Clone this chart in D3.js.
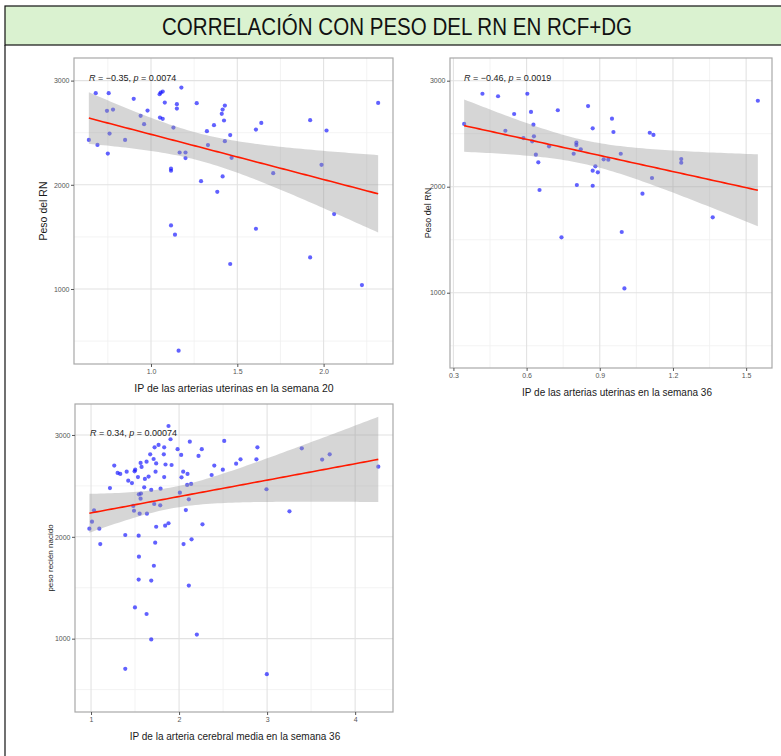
<!DOCTYPE html>
<html>
<head>
<meta charset="utf-8">
<script src="https://cdn.jsdelivr.net/npm/d3@7"></script>
<style>
  body { margin: 0; background: #fff; }
  svg { display: block; font-family: "Liberation Sans", Arial, sans-serif; }
</style>
</head>
<body>
<svg id="chart" width="781" height="756"></svg>
<script>
// ============ 数据 ============
// IP arterias uterinas semana 20 vs peso RN
const ipUt20 = [0.64, 0.68, 0.69, 0.75, 0.755, 0.745, 0.78, 0.76, 0.85, 0.90, 0.94, 0.96, 0.98,
  1.05, 1.056, 1.068, 1.052, 1.068, 1.08, 1.13, 1.116, 1.116, 1.15, 1.15, 1.176, 1.166, 1.20, 1.20,
  1.265, 1.29, 1.324, 1.33, 1.365, 1.384, 1.41, 1.415, 1.428, 1.423, 1.459, 1.428, 1.467, 1.415,
  1.608, 1.639, 1.708, 1.922, 2.017, 1.988, 2.061, 2.316, 1.116, 1.139, 1.16, 1.608, 1.459, 1.922, 2.222];
const pesoUt20 = [2431, 2879, 2383, 2300, 2879, 2710, 2722, 2492, 2431, 2825, 2662, 2582, 2712,
  2869, 2885, 2895, 2645, 2633, 2789, 2549, 2135, 2155, 2774, 2732, 2933, 2310, 2310, 2256,
  2783, 2035, 2515, 2381, 2572, 1933, 2681, 2722, 2760, 2617, 2477, 2419, 2259, 2080,
  2530, 2594, 2112, 2620, 2521, 2192, 1719, 2786, 1610, 1521, 408, 1578, 1240, 1303, 1038];

// IP arterias uterinas semana 36 vs peso RN
const ipUt36 = [0.344, 0.419, 0.483, 0.513, 0.549, 0.587, 0.603, 0.618, 0.628, 0.630, 0.623, 0.638,
  0.648, 0.653, 0.692, 0.728, 0.793, 0.806, 0.804, 0.804, 0.822, 0.852, 0.871, 0.882, 0.871, 0.892,
  0.871, 0.950, 0.956, 0.916, 0.935, 0.986, 1.105, 1.120, 1.114, 1.075, 1.234, 1.234, 1.548,
  0.743, 0.990, 1.001, 1.363];
const pesoUt36 = [2592, 2877, 2853, 2528, 2686, 2459, 2877, 2705, 2585, 2475, 2428, 2302,
  2230, 1969, 2381, 2721, 2311, 2016, 2415, 2393, 2353, 2761, 2551, 2192, 2151, 2136,
  2009, 2642, 2516, 2258, 2255, 2311, 2509, 2488, 2082, 1934, 2261, 2226, 2811,
  1523, 1573, 1041, 1711];

// IP arteria cerebral media semana 36 vs peso recién nacido
const ipAcm36 = [0.981, 1.011, 1.034, 1.094, 1.105, 1.215, 1.264, 1.302, 1.332, 1.389, 1.405, 1.423,
  1.465, 1.480, 1.488, 1.495, 1.502, 1.533, 1.541, 1.544, 1.544, 1.563, 1.567, 1.563, 1.552, 1.574,
  1.604, 1.612, 1.631, 1.635, 1.654, 1.672, 1.684, 1.711, 1.718, 1.722, 1.733, 1.740, 1.729, 1.740,
  1.714, 1.767, 1.786, 1.790, 1.831, 1.827, 1.846, 1.842, 1.831, 1.880, 1.880, 1.903, 1.915, 1.983,
  2.009, 2.028, 2.024, 2.047, 2.051, 2.077, 2.096, 2.092, 2.111, 2.122, 2.137, 2.142, 2.221, 2.258,
  2.266, 2.370, 2.400, 2.513, 2.497, 2.648, 2.698, 2.890, 2.879, 2.993, 3.254, 3.394, 3.625, 3.711,
  4.263, 1.541, 1.684, 2.111, 1.499, 1.631, 1.684, 2.202, 1.389, 2.997];
const pesoAcm36 = [2080, 2149, 2260, 2080, 1929, 2479, 2699, 2627, 2617, 2018, 2640, 2551,
  2528, 2303, 2256, 2643, 2659, 2587, 2011, 1805, 2417, 2725, 2425, 2374, 2227, 2686,
  2486, 2568, 2738, 2227, 2591, 2810, 2460, 2764, 2322, 2879, 2640, 2721, 1942, 2099,
  1716, 2902, 2309, 2473, 2879, 2810, 2710, 2109, 2587, 3088, 2133, 2958, 2705, 2860,
  2433, 2584, 2804, 2640, 1929, 2263, 2617, 2509, 2368, 2934, 2519, 1975, 2794, 2860,
  2123, 2607, 2699, 2941, 2659, 2718, 2761, 2879, 2761, 2467, 2250, 2869, 2758, 2810,
  2689, 1580, 1570, 1521, 1307, 1242, 993, 1040, 704, 651];

const yTicks = [1000, 2000, 3000];
const xTicksUt20 = [1.0, 1.5, 2.0];
const xTicksUt36 = [0.3, 0.6, 0.9, 1.2, 1.5];
const xTicksAcm36 = [1, 2, 3, 4];

const titleText = 'CORRELACIÓN CON PESO DEL RN EN RCF+DG';
const labelsR = ['−0.35', '−0.46', '0.34'];
const labelsP = ['0.0074', '0.0019', '0.00074'];

// ============ 画布 ============
const svg = d3.select('#chart');

// 标题框
svg.append('rect')
  .attr('x', 5).attr('y', 6).attr('width', 800).attr('height', 39)
  .attr('fill', '#daf2d0').attr('stroke', '#111').attr('stroke-width', 1.2);
svg.append('line')
  .attr('x1', 5).attr('x2', 5).attr('y1', 45).attr('y2', 756)
  .attr('stroke', '#111').attr('stroke-width', 1.2);
svg.append('text')
  .attr('x', 397).attr('y', 35)
  .attr('text-anchor', 'middle')
  .attr('font-size', 23)
  .attr('textLength', 470).attr('lengthAdjust', 'spacingAndGlyphs')
  .attr('fill', '#111')
  .text(titleText);

// ============ 回归 ============
function tQuantile(df) {
  const z = 1.959964;
  return z + (z ** 3 + z) / (4 * df) + (5 * z ** 5 + 16 * z ** 3 + 3 * z) / (96 * df * df);
}

function linearFit(xs, ys) {
  const n = xs.length;
  const mx = d3.mean(xs), my = d3.mean(ys);
  let sxx = 0, sxy = 0;
  xs.forEach((x, i) => { sxx += (x - mx) ** 2; sxy += (x - mx) * (ys[i] - my); });
  const b = sxy / sxx, a = my - b * mx;
  const rss = d3.sum(xs, (x, i) => (ys[i] - a - b * x) ** 2);
  const s = Math.sqrt(rss / (n - 2));
  const t = tQuantile(n - 2);
  const [x0, x1] = d3.extent(xs);
  const grid = d3.range(80).map(i => x0 + (x1 - x0) * i / 79);
  return grid.map(x => {
    const yh = a + b * x;
    const se = s * Math.sqrt(1 / n + (x - mx) ** 2 / sxx);
    return { x, y: yh, lo: yh - t * se, hi: yh + t * se };
  });
}

// ============ 面板 ============
function drawPanel(cfg) {
  const x = d3.scaleLinear().domain(cfg.xDomain).range([cfg.left, cfg.right]);
  const y = d3.scaleLinear().domain(cfg.yDomain).range([cfg.bottom, cfg.top]);
  const g = svg.append('g');

  g.append('rect')
    .attr('x', cfg.left).attr('y', cfg.top)
    .attr('width', cfg.right - cfg.left).attr('height', cfg.bottom - cfg.top)
    .attr('fill', '#fff');

  // 网格
  g.append('g').selectAll('line').data(cfg.xMinor).join('line')
    .attr('x1', d => x(d)).attr('x2', d => x(d))
    .attr('y1', cfg.top).attr('y2', cfg.bottom)
    .attr('stroke', '#f0f0f0').attr('stroke-width', 0.8);
  g.append('g').selectAll('line').data([500, 1500, 2500]).join('line')
    .attr('y1', d => y(d)).attr('y2', d => y(d))
    .attr('x1', cfg.left).attr('x2', cfg.right)
    .attr('stroke', '#f0f0f0').attr('stroke-width', 0.8);
  g.append('g').selectAll('line').data(cfg.xTicks).join('line')
    .attr('x1', d => x(d)).attr('x2', d => x(d))
    .attr('y1', cfg.top).attr('y2', cfg.bottom)
    .attr('stroke', '#e2e2e2').attr('stroke-width', 1.1);
  g.append('g').selectAll('line').data(yTicks).join('line')
    .attr('y1', d => y(d)).attr('y2', d => y(d))
    .attr('x1', cfg.left).attr('x2', cfg.right)
    .attr('stroke', '#e2e2e2').attr('stroke-width', 1.1);

  // 点
  g.append('g').selectAll('circle').data(cfg.xs).join('circle')
    .attr('cx', d => x(d))
    .attr('cy', (d, i) => y(cfg.ys[i]))
    .attr('r', 2.1)
    .attr('fill', '#0000ff').attr('fill-opacity', 0.62);

  // 置信带与回归线
  const fit = linearFit(cfg.xs, cfg.ys);
  g.append('path').datum(fit)
    .attr('d', d3.area().x(d => x(d.x)).y0(d => y(d.lo)).y1(d => y(d.hi)))
    .attr('fill', '#999').attr('fill-opacity', 0.4);
  g.append('path').datum(fit)
    .attr('d', d3.line().x(d => x(d.x)).y(d => y(d.y)))
    .attr('fill', 'none').attr('stroke', '#ff1a00').attr('stroke-width', 1.6);

  // 边框
  g.append('rect')
    .attr('x', cfg.left).attr('y', cfg.top)
    .attr('width', cfg.right - cfg.left).attr('height', cfg.bottom - cfg.top)
    .attr('fill', 'none').attr('stroke', '#a8a8a8').attr('stroke-width', 1.2);

  // 坐标轴
  const ya = g.append('g').attr('transform', `translate(${cfg.left},0)`)
    .call(d3.axisLeft(y).tickValues(yTicks).tickFormat(d3.format('d')).tickSize(3).tickPadding(1.5));
  const xa = g.append('g').attr('transform', `translate(0,${cfg.bottom})`)
    .call(d3.axisBottom(x).tickValues(cfg.xTicks).tickFormat(cfg.xFormat).tickSize(3).tickPadding(2));
  [ya, xa].forEach(a => {
    a.select('.domain').remove();
    a.selectAll('line').attr('stroke', '#555');
    a.selectAll('text').attr('fill', '#555').attr('font-size', 7).attr('font-family', '"Liberation Sans", Arial, sans-serif');
  });

  // 标签
  const ann = g.append('text')
    .attr('x', cfg.annX).attr('y', cfg.annY)
    .attr('font-size', 9).attr('fill', '#222');
  ann.append('tspan').attr('font-style', 'italic').text('R');
  ann.append('tspan').text(` = ${cfg.r}, `);
  ann.append('tspan').attr('font-style', 'italic').text('p');
  ann.append('tspan').text(` = ${cfg.p}`);

  g.append('text')
    .attr('transform', `translate(${cfg.yTitleX},${(cfg.top + cfg.bottom) / 2}) rotate(-90)`)
    .attr('text-anchor', 'middle').attr('font-size', cfg.yTitleSize).attr('fill', '#1a1a1a')
    .text(cfg.yTitle);
  g.append('text')
    .attr('x', cfg.xTitleX).attr('y', cfg.xTitleY)
    .attr('text-anchor', 'middle').attr('font-size', cfg.xTitleSize).attr('fill', '#1a1a1a')
    .text(cfg.xTitle);
}

drawPanel({
  xs: ipUt20, ys: pesoUt20,
  left: 74, right: 393, top: 58, bottom: 364,
  xDomain: [0.554, 2.402], yDomain: [280, 3217],
  xTicks: xTicksUt20, xMinor: [0.75, 1.25, 1.75, 2.25], xFormat: d3.format('.1f'),
  r: labelsR[0], p: labelsP[0], annX: 89, annY: 81,
  yTitle: 'Peso del RN', yTitleX: 47, yTitleSize: 10.5,
  xTitle: 'IP de las arterias uterinas en la semana 20', xTitleX: 234, xTitleY: 392, xTitleSize: 10.5
});

drawPanel({
  xs: ipUt36, ys: pesoUt36,
  left: 450, right: 772, top: 58, bottom: 368,
  xDomain: [0.286, 1.606], yDomain: [290, 3214],
  xTicks: xTicksUt36, xMinor: [0.45, 0.75, 1.05, 1.35], xFormat: d3.format('.1f'),
  r: labelsR[1], p: labelsP[1], annX: 464, annY: 81,
  yTitle: 'Peso del RN', yTitleX: 431, yTitleSize: 9,
  xTitle: 'IP de las arterias uterinas en la semana 36', xTitleX: 617, xTitleY: 395.5, xTitleSize: 10
});

drawPanel({
  xs: ipAcm36, ys: pesoAcm36,
  left: 75, right: 393, top: 404, bottom: 712,
  xDomain: [0.818, 4.43], yDomain: [280, 3304],
  xTicks: xTicksAcm36, xMinor: [1.5, 2.5, 3.5], xFormat: d3.format('d'),
  r: labelsR[2], p: labelsP[2], annX: 90, annY: 435.5,
  yTitle: 'peso recién nacido', yTitleX: 53, yTitleSize: 8,
  xTitle: 'IP de la arteria cerebral media en la semana 36', xTitleX: 235, xTitleY: 740, xTitleSize: 10
});
</script>
</body>
</html>
